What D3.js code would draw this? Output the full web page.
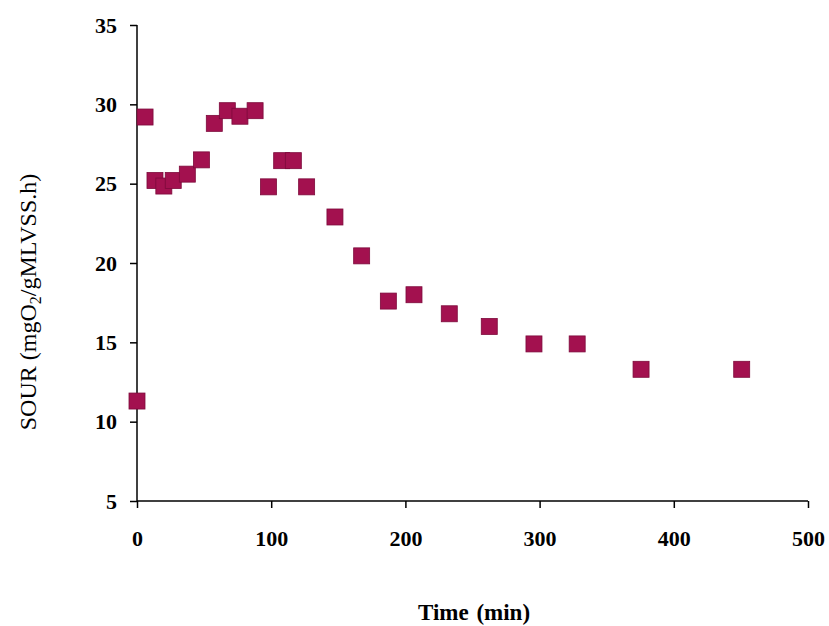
<!DOCTYPE html>
<html><head><meta charset="utf-8">
<script src="https://cdn.jsdelivr.net/npm/d3@7"></script>
<style>body{margin:0;background:#fff}svg{display:block}</style>
</head><body><svg id="c" width="829" height="626"></svg>
<script>
const times = [0, 6, 13.4, 20, 27, 37.5, 48, 57.6, 67.3, 76.7, 88, 98, 107.8, 116.5, 126.4, 147.5, 167.4, 187.3, 206.4, 232.7, 262.5, 295.8, 328, 375.6, 450.6];
const sour  = [11.3, 29.2, 25.2, 24.85, 25.2, 25.6, 26.5, 28.8, 29.6, 29.25, 29.6, 24.8, 26.45, 26.45, 24.8, 22.9, 20.45, 17.6, 18.0, 16.8, 16.0, 14.9, 14.9, 13.3, 13.3];
const xTicks = [0, 100, 200, 300, 400, 500];
const yTicks = [5, 10, 15, 20, 25, 30, 35];

const svg = d3.select("#c");
const x = d3.scaleLinear().domain([0, 500]).range([137, 808]);
const y = d3.scaleLinear().domain([5, 35]).range([501, 25]);
const font = "'Liberation Serif','Times New Roman',serif";

const xa = svg.append("g").attr("transform", "translate(0,501)")
  .call(d3.axisBottom(x).tickValues(xTicks).tickSize(7).tickPadding(22));
const ya = svg.append("g").attr("transform", "translate(137,0)")
  .call(d3.axisLeft(y).tickValues(yTicks).tickSize(7).tickPadding(13));
[xa, ya].forEach(a => {
  a.select(".domain").attr("stroke", "#000").attr("stroke-width", 1.5);
  a.selectAll(".tick line").attr("stroke", "#000").attr("stroke-width", 1.5);
  a.selectAll("text").attr("font-family", font).attr("font-weight", "bold")
    .attr("font-size", 22).attr("fill", "#000");
});
ya.select(".domain").attr("d", "M0,25V501");
xa.select(".domain").attr("d", "M137,0H808");

const s = 16;
svg.append("g").selectAll("rect").data(times).join("rect")
  .attr("x", (d, i) => x(d) - s / 2)
  .attr("y", (d, i) => y(sour[i]) - s / 2)
  .attr("width", s).attr("height", s)
  .attr("fill", "#a3114f").attr("stroke", "#7d0a3b").attr("stroke-width", 0.8);

svg.append("text").attr("x", 474).attr("y", 620).attr("text-anchor", "middle")
  .attr("font-family", font).attr("font-weight", "bold").attr("font-size", 23)
  .attr("word-spacing", 2).text("Time (min)");

const yt = svg.append("text").attr("transform", "translate(36,302) rotate(-90)")
  .attr("text-anchor", "middle").attr("font-family", font).attr("font-size", 24);
yt.append("tspan").text("SOUR (mgO");
yt.append("tspan").attr("font-size", 16).attr("dy", 5).text("2");
yt.append("tspan").attr("dy", -5).text("/gMLVSS.h)");
</script></body></html>
